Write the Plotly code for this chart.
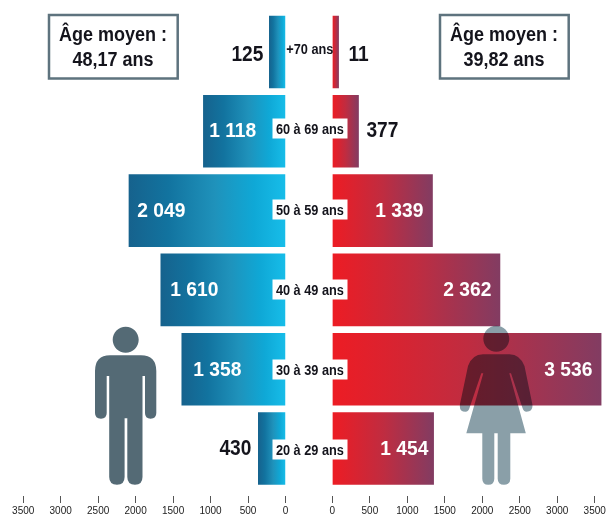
import plotly.graph_objects as go

# ---- data -------------------------------------------------------------
age_groups = ["20 à 29 ans", "30 à 39 ans", "40 à 49 ans", "50 à 59 ans", "60 à 69 ans", "+70 ans"]
men_labels = ["430", "1 358", "1 610", "2 049", "1 118", "125"]
women_labels = ["1 454", "3 536", "2 362", "1 339", "377", "11"]
men_bars = [367, 1388, 1668, 2093, 1100, 220]
women_bars = [1355, 3590, 2240, 1340, 353, 87]
tick_values = [0, 500, 1000, 1500, 2000, 2500, 3000, 3500]
mean_age_title = "Âge moyen :"
mean_age_men = "48,17 ans"
mean_age_women = "39,82 ans"

# ---- geometry / style --------------------------------------------------
W, H = 606, 515
PX_PER_UNIT = 0.07494
ZERO_L, ZERO_R = 285.5, 332.4
AXIS_BOTTOM = 495
ROW0, PITCH = 448.4, 79.26
THICK = 0.915
FONT = "Liberation Sans, Arial, sans-serif"
INK = "#14141c"
BLUE = [[0, "#16628d"], [0.25, "#12739f"], [0.55, "#1f92bb"], [0.8, "#0fa8d6"], [1, "#17bde9"]]
RED = [[0, "#ed1c24"], [0.5, "#c02c40"], [1, "#823c62"]]

px = lambda v: v / W
py = lambda v: 1 - v / H


def path(points):
    out = []
    for p in points:
        cmd, *c = p
        coords = " ".join(f"{px(c[i]):.5f},{py(c[i + 1]):.5f}" for i in range(0, len(c), 2))
        out.append(f"{cmd}{coords}")
    return " ".join(out)


def circle(cx, cy, r):
    k = 0.5523 * r
    return [("M", cx - r, cy),
            ("C", cx - r, cy - k, cx - k, cy - r, cx, cy - r),
            ("C", cx + k, cy - r, cx + r, cy - k, cx + r, cy),
            ("C", cx + r, cy + k, cx + k, cy + r, cx, cy + r),
            ("C", cx - k, cy + r, cx - r, cy + k, cx - r, cy), ("Z",)]


man = circle(125.7, 339.7, 13) + [
    ("M", 110, 355.2), ("L", 141, 355.2), ("Q", 156.3, 355.5, 156.3, 371),
    ("L", 156.3, 413), ("Q", 156.3, 418.7, 150.6, 418.7), ("Q", 145, 418.7, 145, 413),
    ("L", 145, 376), ("L", 142.5, 376), ("L", 142.5, 477), ("Q", 142.5, 484.7, 135, 484.7),
    ("Q", 127.3, 484.7, 127.3, 477), ("L", 127.3, 418.3), ("L", 124.6, 418.3), ("L", 124.6, 477),
    ("Q", 124.6, 484.7, 117, 484.7), ("Q", 109.2, 484.7, 109.2, 477), ("L", 109.2, 376),
    ("L", 106.7, 376), ("L", 106.7, 413), ("Q", 106.7, 418.7, 101, 418.7), ("Q", 95, 418.7, 95, 413),
    ("L", 95, 371), ("Q", 95, 355.5, 110, 355.2), ("Z",)]

woman = circle(496.3, 338.7, 13) + [
    ("M", 483, 354.3), ("L", 509.5, 354.3), ("Q", 520, 354.5, 524.5, 366),
    ("L", 532.3, 404), ("Q", 533.5, 411.7, 526.5, 411.7), ("Q", 523.5, 411.7, 522.5, 408),
    ("L", 511, 373.3), ("L", 509.3, 373.3), ("L", 525.8, 433.3), ("L", 510.3, 433.3),
    ("L", 510.3, 478.7), ("Q", 510.3, 484.7, 504, 484.7), ("Q", 497.7, 484.7, 497.7, 478.7),
    ("L", 497.7, 433.3), ("L", 494.3, 433.3), ("L", 494.3, 478.7), ("Q", 494.3, 484.7, 488.3, 484.7),
    ("Q", 482.3, 484.7, 482.3, 478.7), ("L", 482.3, 433.3), ("L", 466.3, 433.3), ("L", 483.3, 373.3),
    ("L", 481.3, 373.3), ("L", 469.5, 408), ("Q", 468.5, 411.7, 465.5, 411.7),
    ("Q", 458.8, 411.7, 460, 404), ("L", 468, 366), ("Q", 472, 354.5, 483, 354.3), ("Z",)]

fig = go.Figure()

for i, (m, f) in enumerate(zip(men_bars, women_bars)):
    y0, y1 = i - THICK / 2, i + THICK / 2
    fig.add_trace(go.Scatter(
        x=[0, m, m, 0, 0], y=[y0, y0, y1, y1, y0], xaxis="x", yaxis="y",
        mode="lines", line=dict(width=0), fill="toself", hoverinfo="skip", showlegend=False,
        fillgradient=dict(type="horizontal", colorscale=BLUE, start=m, stop=0)))
    fig.add_trace(go.Scatter(
        x=[0, f, f, 0, 0], y=[y0, y0, y1, y1, y0], xaxis="x2", yaxis="y2",
        mode="lines", line=dict(width=0), fill="toself", hoverinfo="skip", showlegend=False,
        fillgradient=dict(type="horizontal", colorscale=RED, start=0, stop=f)))

annotations = []
men_inside = [False, True, True, True, True, False]
women_inside = [True, True, True, True, False, False]
men_offset = [-23, 36.5, 33.5, 33.3, 30, -21.5]
women_offset = [-29.3, -33, -32.6, -33.3, 23.8, 19.5]
label_lift = [1, 1, 1, 1, 2, -1]

for i in range(6):
    inside = men_inside[i]
    annotations.append(dict(
        x=men_bars[i], y=i, xref="x", yref="y", text=men_labels[i], showarrow=False,
        xanchor="center", xshift=men_offset[i], yshift=label_lift[i],
        font=dict(family=FONT, weight=700, size=21 if inside else 22, color="white" if inside else INK)))
    inside = women_inside[i]
    annotations.append(dict(
        x=women_bars[i], y=i, xref="x2", yref="y2", text=women_labels[i], showarrow=False,
        xanchor="center", xshift=women_offset[i], yshift=label_lift[i],
        font=dict(family=FONT, weight=700, size=21 if inside else 22, color="white" if inside else INK)))

age_lift = [-1.5, 0, 0.8, 1, 2.5, 3.3]
for i, g in enumerate(age_groups):
    boxed = g != "+70 ans"
    annotations.append(dict(
        x=px(309.6), y=i, xref="paper", yref="y", text=g, showarrow=False,
        width=74, height=19, borderpad=0, align="center", valign="middle",
        yshift=age_lift[i], bgcolor="white" if boxed else "rgba(0,0,0,0)",
        font=dict(family=FONT, weight=700, size=14, color=INK)))

for cx, value in [(113.2, mean_age_men), (504.4, mean_age_women)]:
    for ypx, txt in [(33.5, mean_age_title), (59, value)]:
        annotations.append(dict(
            x=px(cx), y=py(ypx), xref="paper", yref="paper", text=txt, showarrow=False,
            font=dict(family=FONT, weight=700, size=20, color=INK), xanchor="center", yanchor="middle"))

shapes = [
    dict(type="rect", xref="paper", yref="paper", x0=px(49), x1=px(177.7), y0=py(15), y1=py(78.5),
         line=dict(color="#5e737e", width=2.5), fillcolor="white", layer="above"),
    dict(type="rect", xref="paper", yref="paper", x0=px(440), x1=px(568.7), y0=py(15), y1=py(78.5),
         line=dict(color="#5e737e", width=2.5), fillcolor="white", layer="above"),
    dict(type="path", xref="paper", yref="paper", path=path(man),
         fillcolor="#546a75", line=dict(width=0), layer="above"),
    dict(type="path", xref="paper", yref="paper", path=path(woman),
         fillcolor="#8a9fa8", line=dict(width=0), layer="above"),
]

axis_common = dict(
    tickmode="array", tickvals=tick_values, ticks="outside", ticklen=7, tickwidth=1, tickcolor="#555",
    showgrid=False, zeroline=False, showline=False, ticklabelstandoff=-1, automargin=False,
    ticklabeloverflow="allow", tickfont=dict(family=FONT, size=10, color="#222"),
)
yr = [(ROW0 - AXIS_BOTTOM) / PITCH, ROW0 / PITCH]
bottom = (H - AXIS_BOTTOM) / H
y_common = dict(range=yr, domain=[bottom, 1], visible=False, fixedrange=True, automargin=False)

fig.update_layout(
    width=W, height=H, autosize=False, margin=dict(l=0, r=0, t=0, b=0),
    paper_bgcolor="white", plot_bgcolor="rgba(0,0,0,0)", showlegend=False,
    xaxis=dict(axis_common, domain=[0, px(ZERO_L)], range=[ZERO_L / PX_PER_UNIT, 0], anchor="y"),
    xaxis2=dict(axis_common, domain=[px(ZERO_R), 1], range=[0, (W - ZERO_R) / PX_PER_UNIT], anchor="y2"),
    yaxis=y_common, yaxis2=dict(y_common, anchor="x2"),
    annotations=annotations, shapes=shapes,
)

post = """
document.body.style.margin='0';
document.documentElement.style.overflow='hidden';
document.querySelectorAll('.shapelayer path').forEach(function(p){
  var f=p.style.fill||'';
  if(f.indexOf('138, 159, 168')>=0){p.style.mixBlendMode='multiply';}
});
var factors={22:0.87,21:0.915,20:0.9,14:0.91};
document.querySelectorAll('.annotation-text').forEach(function(t){
  var s=Math.round(parseFloat(t.style.fontSize||'0'));
  var k=factors[s]||0.9;
  t.setAttribute('textLength',(t.getComputedTextLength()*k).toFixed(2));
  t.setAttribute('lengthAdjust','spacingAndGlyphs');
});
"""
fig.write_html("out.html", post_script=post, config=dict(displayModeBar=False))
